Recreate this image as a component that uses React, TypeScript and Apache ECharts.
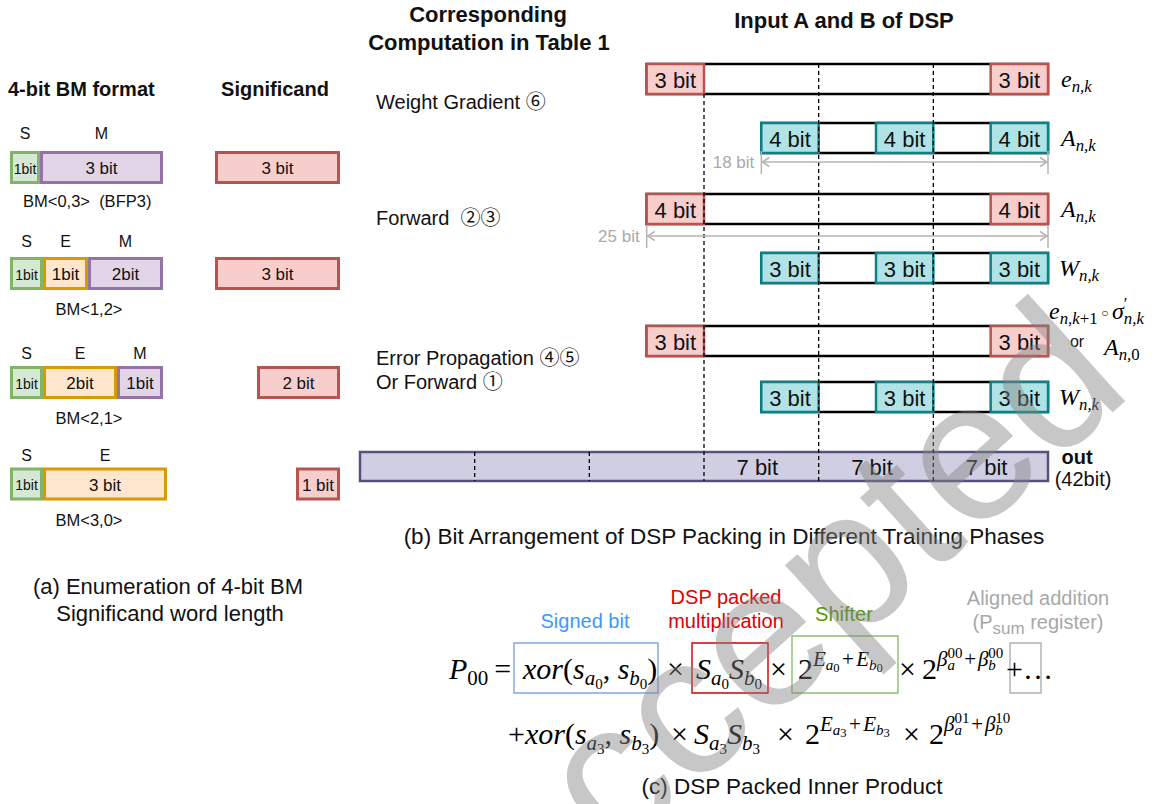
import React, { useEffect, useRef } from "react";
import * as echarts from "echarts";

const SANS = '"Liberation Sans", Arial, "Noto Sans CJK SC", sans-serif';
const SERIF = '"Liberation Serif", "DejaVu Serif", "Noto Sans CJK SC", serif';

// ---------- (a) 4-bit BM formats ----------
const BM_NAMES = ["BM<0,3>  (BFP3)", "BM<1,2>", "BM<2,1>", "BM<3,0>"];
const BM_FIELD_NAMES = [["S", "M"], ["S", "E", "M"], ["S", "E", "M"], ["S", "E"]];
const BM_FIELD_BITS = [["1bit", "3 bit"], ["1bit", "1bit", "2bit"], ["1bit", "2bit", "1bit"], ["1bit", "3 bit"]];
const SIGNIFICAND_BITS = ["3 bit", "3 bit", "2 bit", "1 bit"];

// ---------- (b) DSP packing ----------
const PHASES = ["Weight Gradient ⑥", "Forward  ②③", "Error Propagation ④⑤", "Or Forward ①"];
// each packed operand: [startBit, endBit] on the 42-bit output scale
const PACK_KIND = ["red", "teal", "red", "teal", "red", "teal"];
const PACK_SLOTS = [
  [[17.5, 21], [38.5, 42]],
  [[24.5, 28], [31.5, 35], [38.5, 42]],
  [[17.5, 21], [38.5, 42]],
  [[24.5, 28], [31.5, 35], [38.5, 42]],
  [[17.5, 21], [38.5, 42]],
  [[24.5, 28], [31.5, 35], [38.5, 42]],
];
const PACK_LABELS = [
  ["3 bit", "3 bit"],
  ["4 bit", "4 bit", "4 bit"],
  ["4 bit", "4 bit"],
  ["3 bit", "3 bit", "3 bit"],
  ["3 bit", "3 bit"],
  ["3 bit", "3 bit", "3 bit"],
];
const RIGHT_OPERANDS = [["e", "n,k"], ["A", "n,k"], ["A", "n,k"], ["W", "n,k"], null, ["W", "n,k"]];
const OUT_BITS = 42;
const OUT_FIELDS = [[21, 28], [28, 35], [35, 42]];
const OUT_LABELS = ["7 bit", "7 bit", "7 bit"];
const OUT_GUIDES = [7, 14];
const LANE_GUIDES = [21, 28, 35];
const DIM_FROM = [24.5, 17.5];
const DIM_TO = [42, 42];
const DIM_LABELS = ["18 bit", "25 bit"];

// ---------- layout ----------
const ROW_Y = [79, 138, 209, 268, 341, 397];
const BOX_H = 30;
const OUT_Y = 466.5;
const OUT_H = 29;
const DIM_Y = [162, 236];
const BM_ROW_Y = [167.5, 273.5, 382.5, 484];
const BM_LABEL_Y = [133, 241, 353, 455];
const BM_NAME_Y = [201, 309, 418, 520];
const BM_EDGES = [[10, 40, 163], [10, 43, 88, 163], [10, 43, 117, 163], [10, 43, 167]];
const SIG_BOX = [[215, 340], [215, 340], [257, 340], [296, 340]];

const PALETTE: Record<string, { fill: string; stroke: string }> = {
  red: { fill: "#f8cecc", stroke: "#b85450" },
  teal: { fill: "#b0e3e6", stroke: "#0e8088" },
  S: { fill: "#d5e8d4", stroke: "#82b366" },
  E: { fill: "#ffe6cc", stroke: "#d79b00" },
  M: { fill: "#e1d5e7", stroke: "#9673a6" },
  out: { fill: "#d0cee2", stroke: "#56517e" },
};

let measureCtx: CanvasRenderingContext2D | null = null;
function textWidth(text: string, size: number, family: string, italic = false, weight = "normal") {
  if (!measureCtx) measureCtx = document.createElement("canvas").getContext("2d");
  measureCtx!.font = `${italic ? "italic " : ""}${weight} ${size}px ${family}`;
  return measureCtx!.measureText(text).width;
}

function txt(x: number, y: number, text: string, size: number, opts: any = {}) {
  return {
    type: "text",
    x,
    y,
    z: opts.z ?? 10,
    style: {
      text,
      fill: opts.fill ?? "#111",
      fontSize: size,
      fontFamily: opts.family ?? SANS,
      fontWeight: opts.weight ?? "normal",
      fontStyle: opts.italic ? "italic" : "normal",
      textAlign: opts.align ?? "center",
      textVerticalAlign: "middle",
    },
  };
}

// math layout: level -> size factor and baseline shift (in units of the base size)
const LV = [
  { s: 1, d: 0 }, // 0 main
  { s: 0.7, d: 0.22 }, // 1 subscript
  { s: 0.5, d: 0.34 }, // 2 second-level subscript
  { s: 0.7, d: -0.42 }, // 3 superscript
  { s: 0.5, d: -0.3 }, // 4 subscript inside superscript
  { s: 0.5, d: -0.7 }, // 5 superscript inside superscript
  { s: 0.42, d: -0.22 }, // 6 third level inside superscript
  { s: 0.5, d: -0.07 }, // 7 small centred operator
];
type MT = { t?: string; l?: number; up?: boolean; pad?: number; st?: [string, number, string, number] };
const t = (s: string, l = 0, up = false, pad = 0): MT => ({ t: s, l, up, pad });
const st = (a: string, la: number, b: string, lb: number): MT => ({ st: [a, la, b, lb] });

function mathRow(x0: number, base: number, S: number, toks: MT[], fill = "#000") {
  const els: any[] = [];
  let x = x0;
  const put = (s: string, l: number, up?: boolean) => {
    const L = LV[l];
    const size = S * L.s;
    const it = !up && /[A-Za-zα-ω]/.test(s);
    els.push({
      type: "text",
      x,
      y: base + L.d * S - 0.34 * size,
      z: 10,
      style: {
        text: s,
        fill,
        fontSize: size,
        fontFamily: SERIF,
        fontStyle: it ? "italic" : "normal",
        textAlign: "left",
        textVerticalAlign: "middle",
      },
    });
    return textWidth(s, size, SERIF, it);
  };
  for (const tk of toks) {
    if (tk.st) {
      const [a, la, b, lb] = tk.st;
      const w1 = put(a, la, /^[0-9′]+$/.test(a));
      const w2 = put(b, lb, /^[0-9′]+$/.test(b));
      x += Math.max(w1, w2);
    } else {
      const pad = (tk.pad ?? 0) * S;
      x += pad;
      x += put(tk.t!, tk.l ?? 0, tk.up) + pad;
    }
  }
  return { els, width: x - x0 };
}

// (c) inner product formula, grouped so each group starts at its column
const FORMULA_1: [number, MT[]][] = [
  [449, [t("P"), t("00", 1), t("=", 0, true, 0.2)]],
  [523, [t("xor"), t("(", 0, true), t("s"), t("a", 1), t("0", 2), t(", ", 0, true), t("s"), t("b", 1), t("0", 2), t(")", 0, true)]],
  [667, [t("×")]],
  [696, [t("S"), t("a", 1), t("0", 2), t("S"), t("b", 1), t("0", 2)]],
  [770, [t("×")]],
  [798, [t("2"), t("E", 3), t("a", 4), t("0", 6), t("+", 3, true, 0.08), t("E", 3), t("b", 4), t("0", 6)]],
  [899, [t("×")]],
  [922, [t("2"), t("β", 3), st("00", 5, "a", 4), t("+", 3, true, 0.06), t("β", 3), st("00", 5, "b", 4)]],
  [1006, [t("+"), t("…")]],
];
const FORMULA_2: [number, MT[]][] = [
  [508, [t("+"), t("xor"), t("(", 0, true), t("s"), t("a", 1), t("3", 2), t(", ", 0, true), t("s"), t("b", 1), t("3", 2), t(")", 0, true)]],
  [671, [t("×")]],
  [694, [t("S"), t("a", 1), t("3", 2), t("S"), t("b", 1), t("3", 2)]],
  [777, [t("×")]],
  [805, [t("2"), t("E", 3), t("a", 4), t("3", 6), t("+", 3, true, 0.08), t("E", 3), t("b", 4), t("3", 6)]],
  [903, [t("×")]],
  [929, [t("2"), t("β", 3), st("01", 5, "a", 4), t("+", 3, true, 0.06), t("β", 3), st("10", 5, "b", 4)]],
];

function renderPack(params: any, api: any) {
  const i = params.dataIndex;
  const X = (b: number) => api.coord([b, 0])[0];
  const Y = (v: number) => api.coord([0, v])[1];
  const children: any[] = [];
  const label = (x: number, y: number, s: string, size = 22, fill = "#111", align = "center") => ({
    type: "text",
    x,
    y,
    style: { text: s, fill, fontSize: size, fontFamily: SANS, textAlign: align, textVerticalAlign: "middle" },
  });
  if (i < PACK_SLOTS.length) {
    const slots = PACK_SLOTS[i];
    const pal = PALETTE[PACK_KIND[i]];
    const yc = Y(ROW_Y[i]);
    const top = yc - BOX_H / 2;
    const x0 = X(slots[0][0]);
    const x1 = X(slots[slots.length - 1][1]);
    children.push({
      type: "rect",
      shape: { x: x0, y: top, width: x1 - x0, height: BOX_H },
      style: { fill: "#fff", stroke: "#000", lineWidth: 2.5 },
    });
    slots.forEach(([a, b], k) => {
      children.push({
        type: "rect",
        shape: { x: X(a), y: top, width: X(b) - X(a), height: BOX_H },
        style: { fill: pal.fill, stroke: pal.stroke, lineWidth: 2.5 },
      });
      children.push(label((X(a) + X(b)) / 2, yc + 1, PACK_LABELS[i][k]));
    });
  } else if (i === PACK_SLOTS.length) {
    const pal = PALETTE.out;
    const top = Y(OUT_Y) - OUT_H / 2;
    children.push({
      type: "rect",
      shape: { x: X(0), y: top, width: X(OUT_BITS) - X(0), height: OUT_H },
      style: { fill: pal.fill, stroke: pal.stroke, lineWidth: 2.5 },
    });
    OUT_FIELDS.forEach(([a, b], k) => children.push(label((X(a) + X(b)) / 2 - 4, Y(OUT_Y) + 1, OUT_LABELS[k])));
    OUT_GUIDES.forEach((g) =>
      children.push({
        type: "line",
        shape: { x1: X(g), y1: top, x2: X(g), y2: top + OUT_H },
        style: { stroke: "#000", lineWidth: 1.3, lineDash: [4, 3] },
      })
    );
  } else if (i === PACK_SLOTS.length + 1) {
    const bottom = Y(OUT_Y) + OUT_H / 2;
    LANE_GUIDES.forEach((g, k) => {
      const y1 = k === 0 ? Y(ROW_Y[0]) + BOX_H / 2 : Y(ROW_Y[0]) - BOX_H / 2;
      children.push({
        type: "line",
        shape: { x1: X(g), y1, x2: X(g), y2: bottom },
        style: { stroke: "#000", lineWidth: 1.3, lineDash: [4, 3] },
      });
    });
  } else {
    const gray = "#b5b5b5";
    DIM_FROM.forEach((from, k) => {
      const xa = X(from);
      const xb = X(DIM_TO[k]);
      const y = Y(DIM_Y[k]);
      const s = { stroke: gray, lineWidth: 1.5, fill: "none" };
      children.push({ type: "line", shape: { x1: xa, y1: y, x2: xb, y2: y }, style: s });
      children.push({ type: "line", shape: { x1: xa, y1: y - 11, x2: xa, y2: y + 12 }, style: s });
      children.push({ type: "line", shape: { x1: xb, y1: y - 11, x2: xb, y2: y + 12 }, style: s });
      children.push({ type: "polyline", shape: { points: [[xa + 8, y - 4.5], [xa + 1, y], [xa + 8, y + 4.5]] }, style: s });
      children.push({ type: "polyline", shape: { points: [[xb - 8, y - 4.5], [xb - 1, y], [xb - 8, y + 4.5]] }, style: s });
      children.push(label(xa - 7, y, DIM_LABELS[k], 17, "#aaaaaa", "right"));
    });
  }
  return { type: "group", children };
}

function buildGraphics() {
  const g: any[] = [];
  // (a) headers
  g.push(txt(8, 89, "4-bit BM format", 20, { weight: "bold", align: "left" }));
  g.push(txt(275, 89, "Significand", 20, { weight: "bold" }));
  BM_FIELD_NAMES.forEach((names, r) => {
    const edges = BM_EDGES[r];
    const yc = BM_ROW_Y[r];
    names.forEach((n, k) => {
      const a = edges[k];
      const b = edges[k + 1];
      const pal = PALETTE[n];
      g.push({
        type: "rect",
        z: 5 + k,
        shape: { x: a + 1.5, y: yc - 15, width: b - a - 3, height: 30 },
        style: { fill: pal.fill, stroke: pal.stroke, lineWidth: 3 },
      });
      g.push(txt((a + b) / 2, yc + 1, BM_FIELD_BITS[r][k], n === "S" ? 14 : 17, { z: 12 }));
      g.push(txt((a + b) / 2, BM_LABEL_Y[r], n, 16));
    });
    const [sa, sb] = SIG_BOX[r];
    g.push({
      type: "rect",
      z: 5,
      shape: { x: sa + 1.5, y: yc - 15, width: sb - sa - 3, height: 30 },
      style: { fill: PALETTE.red.fill, stroke: PALETTE.red.stroke, lineWidth: 3 },
    });
    g.push(txt((sa + sb) / 2, yc + 1, SIGNIFICAND_BITS[r], 17, { z: 12 }));
    if (r === 0) g.push(txt(23, BM_NAME_Y[r], BM_NAMES[r], 16.5, { align: "left" }));
    else g.push(txt(89, BM_NAME_Y[r], BM_NAMES[r], 16.5));
  });
  g.push(txt(168, 586, "(a) Enumeration of 4-bit BM", 22));
  g.push(txt(170, 613, "Significand word length", 22));

  // (b) headers and phase names
  g.push(txt(488, 14, "Corresponding", 22, { weight: "bold" }));
  g.push(txt(489, 42, "Computation in Table 1", 22, { weight: "bold" }));
  g.push(txt(844, 20, "Input A and B of DSP", 22, { weight: "bold" }));
  const phaseY = [102, 218, 358, 382];
  PHASES.forEach((p, k) => g.push(txt(376, phaseY[k], p, 20, { align: "left" })));

  // operand names beside each packed row
  RIGHT_OPERANDS.forEach((op, r) => {
    if (!op) return;
    g.push(...mathRow(op[0] === "W" ? 1059 : 1061, ROW_Y[r] + 8, 24, [t(op[0]), t(op[1], 1)]).els);
  });
  g.push(
    ...mathRow(1049, 319, 24, [t("e"), t("n,k", 1), t("+1", 1, true), t("○", 7, true, 0.15), t("σ"), st("′", 3, "n,k", 1)]).els
  );
  g.push(txt(1077, 341, "or", 16));
  g.push(...mathRow(1104, 355, 24, [t("A"), t("n,", 1), t("0", 1, true)]).els);
  g.push(txt(1077, 457, "out", 20, { weight: "bold" }));
  g.push(txt(1083, 479, "(42bit)", 20));
  g.push(txt(724, 536, "(b) Bit Arrangement of DSP Packing in Different Training Phases", 22.5));

  // (c) annotations
  g.push(txt(585, 621, "Signed bit", 20, { fill: "#3b99fc" }));
  g.push(txt(726, 597, "DSP packed", 20, { fill: "#e00000" }));
  g.push(txt(726, 621, "multiplication", 20, { fill: "#e00000" }));
  g.push(txt(844, 614, "Shifter", 20, { fill: "#4d9900" }));
  g.push(txt(1038, 598, "Aligned addition", 20, { fill: "#a8a8a8" }));
  {
    const parts: [string, number, number][] = [["(P", 20, 0], ["sum", 17, 6], [" register)", 20, 0]];
    const w = parts.reduce((s, p) => s + textWidth(p[0], p[1], SANS), 0);
    let x = 1038 - w / 2;
    parts.forEach(([s, size, dy]) => {
      g.push(txt(x, 622 + dy, s, size, { fill: "#a8a8a8", align: "left" }));
      x += textWidth(s, size, SANS);
    });
  }
  const boxes: [number, number, number, number, string][] = [
    [514, 643, 658, 693, "#7ea6e0"],
    [692, 643, 768, 693, "#d00000"],
    [792, 636, 898, 693, "#8cc06a"],
    [1010, 643, 1041, 693, "#b0b0b0"],
  ];
  boxes.forEach(([x1, y1, x2, y2, c]) =>
    g.push({ type: "rect", z: 9, shape: { x: x1, y: y1, width: x2 - x1, height: y2 - y1 }, style: { fill: "none", stroke: c, lineWidth: 1.4 } })
  );
  FORMULA_1.forEach(([x, toks]) => g.push(...mathRow(x, 679, 30, toks).els));
  FORMULA_2.forEach(([x, toks]) => g.push(...mathRow(x, 744, 30, toks).els));
  g.push(txt(792, 786, "(c) DSP Packed Inner Product", 22.5));

  // review stamp across the figure; anchored near the foot of the final letter's stem
  const theta = (42 * Math.PI) / 180;
  const F = 200;
  const u = [Math.cos(theta), -Math.sin(theta)];
  const v = [-Math.sin(theta), -Math.cos(theta)];
  const foot = [1113 + 15 * u[0], 410 + 15 * u[1]];
  const end = [foot[0] + 0.066 * F * u[0], foot[1] + 0.066 * F * u[1]];
  g.push({
    type: "text",
    x: end[0] + 0.34 * F * v[0],
    y: end[1] + 0.34 * F * v[1],
    rotation: theta,
    z: 100,
    style: {
      text: "accepted",
      fontSize: F,
      fontFamily: SANS,
      fill: "rgba(130,130,130,0.45)",
      textAlign: "right",
      textVerticalAlign: "middle",
    },
  });
  return g;
}

export default function App() {
  const ref = useRef<HTMLDivElement>(null);
  useEffect(() => {
    document.body.style.margin = "0";
    const chart = echarts.init(ref.current!, undefined, { renderer: "svg" });
    chart.setOption({
      animation: false,
      backgroundColor: "#ffffff",
      grid: { left: 360, right: 125, top: 0, bottom: 0 },
      xAxis: { type: "value", min: 0, max: OUT_BITS, show: false },
      yAxis: { type: "value", min: 0, max: 804, inverse: true, show: false },
      series: [
        {
          type: "custom",
          clip: false,
          silent: true,
          renderItem: renderPack,
          data: Array.from({ length: PACK_SLOTS.length + 3 }, (_, i) => [i, 0]),
        },
      ],
      graphic: { elements: buildGraphics() },
    });
    return () => chart.dispose();
  }, []);
  return <div ref={ref} style={{ width: 1173, height: 804 }} />;
}
